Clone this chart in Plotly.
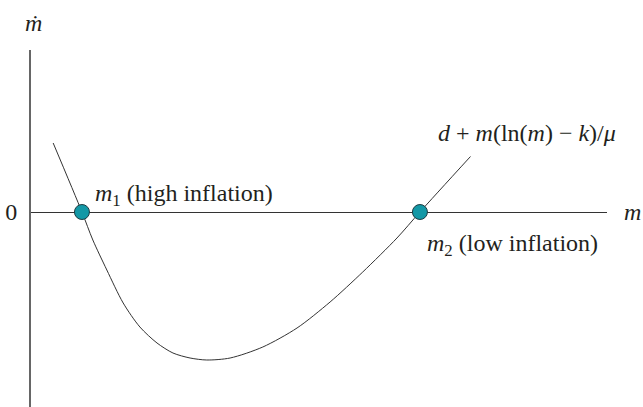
import plotly.graph_objects as go

# points (m on x, m-dot on y; origin where the axes meet)
curve_m = [0.57, 1.31, 1.59, 1.95, 2.37, 2.80, 3.24, 3.65, 4.09, 4.52, 5.12,
           5.96, 6.84, 7.69, 8.53, 9.41, 10.0, 11.30]
curve_mdot = [1.38, 0.0, -0.56, -1.16, -1.82, -2.30, -2.62, -2.82, -2.92, -2.96, -2.92,
              -2.70, -2.32, -1.80, -1.20, -0.52, 0.0, 1.11]

# the two steady states
eq_m = [1.31, 10.0]
eq_mdot = [0.0, 0.0]

serif = "Liberation Serif, Times New Roman, serif"
ink = "#231f20"
teal = "#1398a6"

fig = go.Figure()

fig.add_trace(go.Scatter(
    x=curve_m, y=curve_mdot,
    mode="lines",
    line=dict(color="#333333", width=1, shape="spline", smoothing=0.8),
    hoverinfo="none", showlegend=False,
))

fig.add_trace(go.Scatter(
    x=eq_m, y=eq_mdot,
    mode="markers",
    marker=dict(size=15, color=teal, line=dict(color="#1d3c42", width=1)),
    hoverinfo="none", showlegend=False,
))

fig.update_layout(
    width=643, height=407,
    margin=dict(l=31, r=36, t=50, b=0),
    paper_bgcolor="white", plot_bgcolor="white",
    font=dict(family=serif, size=24, color=ink),
    xaxis=dict(
        range=[0, 14.81], showgrid=False, zeroline=False,
        showticklabels=False, ticks="", fixedrange=True,
    ),
    yaxis=dict(
        range=[-3.9, 3.24], showgrid=False,
        zeroline=True, zerolinecolor="#333333", zerolinewidth=1,
        showline=True, linecolor="#666666", linewidth=2,
        tickvals=[0], ticktext=["0"], ticks="",
        ticklabelstandoff=7, tickfont=dict(family=serif, size=24, color=ink),
        fixedrange=True,
    ),
    annotations=[
        dict(x=1.59, y=0.34, xref="x", yref="y", xanchor="left", yanchor="middle",
             text="<i>m</i><sub>1</sub> (high inflation)", showarrow=False),
        dict(x=10.13, y=-0.66, xref="x", yref="y", xanchor="left", yanchor="middle",
             text="<i>m</i><sub>2</sub> (low inflation)", showarrow=False),
        dict(x=10.41, y=1.58, xref="x", yref="y", xanchor="left", yanchor="middle",
             text="<i>d</i> + <i>m</i>(ln(<i>m</i>) \u2212 <i>k</i>)/<i>\u03bc</i>", showarrow=False),
        # axis names sit outside the plot area, so they use paper coordinates
        dict(x=1.045, y=0.546, xref="paper", yref="paper", xanchor="center", yanchor="middle",
             text="<i>m</i>", showarrow=False),
        dict(x=0.004, y=1.076, xref="paper", yref="paper", xanchor="center", yanchor="middle",
             text="<i>\u1e41</i>", showarrow=False),
    ],
)

fig.write_html(
    "out.html",
    config={"displayModeBar": False},
    post_script="document.body.style.margin='0';",
)
